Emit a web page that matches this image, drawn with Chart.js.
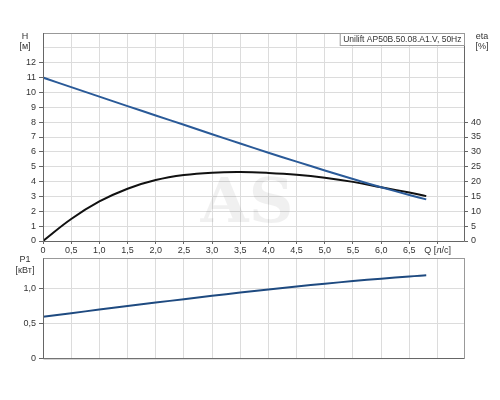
<!DOCTYPE html>
<html>
<head>
<meta charset="utf-8">
<script src="https://cdn.jsdelivr.net/npm/chart.js@4/dist/chart.umd.min.js"></script>
<style>
html,body{margin:0;padding:0;background:#fff;}
#wrap{position:relative;width:500px;height:400px;}
#c1{position:absolute;left:0;top:0;}
#c2{position:absolute;left:0;top:250px;}
</style>
</head>
<body>
<div id="wrap">
<canvas id="c1" width="500" height="260"></canvas>
<canvas id="c2" width="500" height="120"></canvas>
</div>
<script>
const Q   = [0, 0.5, 1.0, 1.5, 2.0, 2.5, 3.0, 3.5, 4.0, 4.5, 5.0, 5.5, 6.0, 6.5, 6.8];
const H   = [11, 10.36, 9.72, 9.08, 8.45, 7.82, 7.19, 6.56, 5.94, 5.34, 4.75, 4.17, 3.62, 3.1, 2.8];
const ETA = [0, 7.4, 13.3, 17.6, 20.5, 22.2, 23.0, 23.2, 22.9, 22.3, 21.3, 19.9, 18.1, 16.3, 15.1];
const P1  = [0.6, 0.651, 0.702, 0.753, 0.803, 0.852, 0.9, 0.947, 0.992, 1.035, 1.075, 1.113, 1.148, 1.18, 1.196];
const H_TICKS_MAX = 12;
const ETA_TICKS_MAX = 40;
const TITLE = 'Unilift AP50B.50.08.A1.V, 50Hz';

const FONT = {family: '"Liberation Sans", Arial, sans-serif', size: 9};
const TXT = '#333';
const GRID = '#dcdcdc';
const AXIS = '#666';

function fmt(v){ if (v === 0) return '0'; return v.toFixed(1).replace('.', ','); }
function pts(ys){ return Q.map((q,i)=>({x:q,y:ys[i]})); }

const boxPlugin = {
  id:'box',
  beforeDatasetsDraw(chart, args, opts){
    const c = chart.ctx;
    if (opts.watermark){
      c.save();
      c.fillStyle = 'rgba(0,0,0,0.06)';
      c.font = 'bold 62px "DejaVu Serif", "Liberation Serif", serif';
      c.textAlign='center'; c.textBaseline='middle';
      c.fillText('AS', 247, 206);
      c.restore();
    }
  },
  afterDraw(chart, args, opts){
    const a = chart.chartArea, c = chart.ctx;
    c.save();
    c.strokeStyle = '#999'; c.lineWidth = 1;
    c.strokeRect(Math.round(a.left)+0.5, Math.round(a.top)+0.5, Math.round(a.right-a.left), Math.round(a.bottom-a.top));
    c.strokeStyle = AXIS;
    c.beginPath();
    c.moveTo(Math.round(a.left)+0.5, a.top); c.lineTo(Math.round(a.left)+0.5, a.bottom+0.5);
    c.lineTo(a.right, Math.round(a.bottom)+0.5);
    if (opts.rightAxis){ c.moveTo(Math.round(a.right)+0.5, a.top); c.lineTo(Math.round(a.right)+0.5, a.bottom+0.5); }
    c.stroke();
    c.fillStyle = TXT;
    c.font = '9px "Liberation Sans", Arial, sans-serif';
    c.textAlign='center'; c.textBaseline='middle';
    (opts.labels||[]).forEach(l=>c.fillText(l[0], l[1], l[2]));
    if (opts.title){
      c.font = '8.5px "Liberation Sans", Arial, sans-serif';
      const w = c.measureText(opts.title).width + 6;
      const x1 = Math.round(a.right) - w, y1 = Math.round(a.top);
      c.fillStyle = '#fff';
      c.fillRect(x1+0.5, y1+0.5, w, 12);
      c.strokeStyle = '#999';
      c.strokeRect(x1+0.5, y1+0.5, w, 12);
      c.fillStyle = TXT;
      c.fillText(opts.title, x1 + w/2 + 0.5, y1 + 6.5);
    }
    c.restore();
  }
};

new Chart(document.getElementById('c1'), {
  type:'line',
  data:{datasets:[
    {label:'H', data:pts(H), yAxisID:'y', borderColor:'#2a5a98', borderWidth:2, pointRadius:0, tension:0.4, fill:false},
    {label:'eta', data:pts(ETA), yAxisID:'y2', borderColor:'#111', borderWidth:2, pointRadius:0, tension:0.4, fill:false}
  ]},
  options:{
    responsive:false, animation:false,
    layout:{padding:{top:33,left:0,right:0,bottom:0}},
    plugins:{legend:{display:false}, tooltip:{enabled:false},
      box:{rightAxis:true, watermark:true, title:TITLE,
        labels:[['H',25,37],['[м]',25,47],['eta',482,37],['[%]',482,47]]}},
    scales:{
      x:{type:'linear', min:0, max:7.47,
        ticks:{stepSize:0.5, includeBounds:false, autoSkip:false, maxRotation:0, font:FONT, color:TXT, padding:1,
          callback:v=> v===7 ? 'Q [л/с]' : (v<7 ? fmt(v) : '')},
        grid:{color:GRID, tickColor:AXIS, tickLength:3},
        border:{display:false},
        afterFit:s=>{s.height=19;}},
      y:{position:'left', min:0, max:14,
        ticks:{stepSize:1, font:FONT, color:TXT, padding:3, callback:v=> v<=H_TICKS_MAX ? String(v) : ''},
        grid:{color:GRID, tickLength:4, tickColor:c=> c.tick && c.tick.value<=H_TICKS_MAX ? AXIS : 'rgba(0,0,0,0)'},
        border:{display:false},
        afterFit:s=>{s.width=43;}},
      y2:{position:'right', min:0, max:70,
        ticks:{stepSize:5, font:FONT, color:TXT, padding:3, callback:v=> v<=ETA_TICKS_MAX ? String(v) : ''},
        grid:{drawOnChartArea:false, tickLength:4, tickColor:c=> c.tick && c.tick.value<=ETA_TICKS_MAX ? AXIS : 'rgba(0,0,0,0)'},
        border:{display:false},
        afterFit:s=>{s.width=36;}}
    }
  },
  plugins:[boxPlugin]
});

new Chart(document.getElementById('c2'), {
  type:'line',
  data:{datasets:[
    {label:'P1', data:pts(P1), borderColor:'#1e4a80', borderWidth:2, pointRadius:0, tension:0.4, fill:false}
  ]},
  options:{
    responsive:false, animation:false,
    layout:{padding:{top:6,left:0,right:36,bottom:0}},
    plugins:{legend:{display:false}, tooltip:{enabled:false},
      box:{rightAxis:false, labels:[['P1',25,10],['[кВт]',25,21]]}},
    scales:{
      x:{type:'linear', min:0, max:7.47,
        ticks:{display:false, stepSize:0.5, includeBounds:false},
        grid:{color:GRID, drawTicks:false},
        border:{display:false},
        afterFit:s=>{s.height=11.7;}},
      y:{position:'left', min:0, max:1.44,
        ticks:{stepSize:0.5, includeBounds:false, font:FONT, color:TXT, padding:3, callback:v=>fmt(v)},
        grid:{color:GRID, tickLength:4, tickColor:AXIS},
        border:{display:false},
        afterFit:s=>{s.width=43;}}
    }
  },
  plugins:[boxPlugin]
});
</script>
</body>
</html>
